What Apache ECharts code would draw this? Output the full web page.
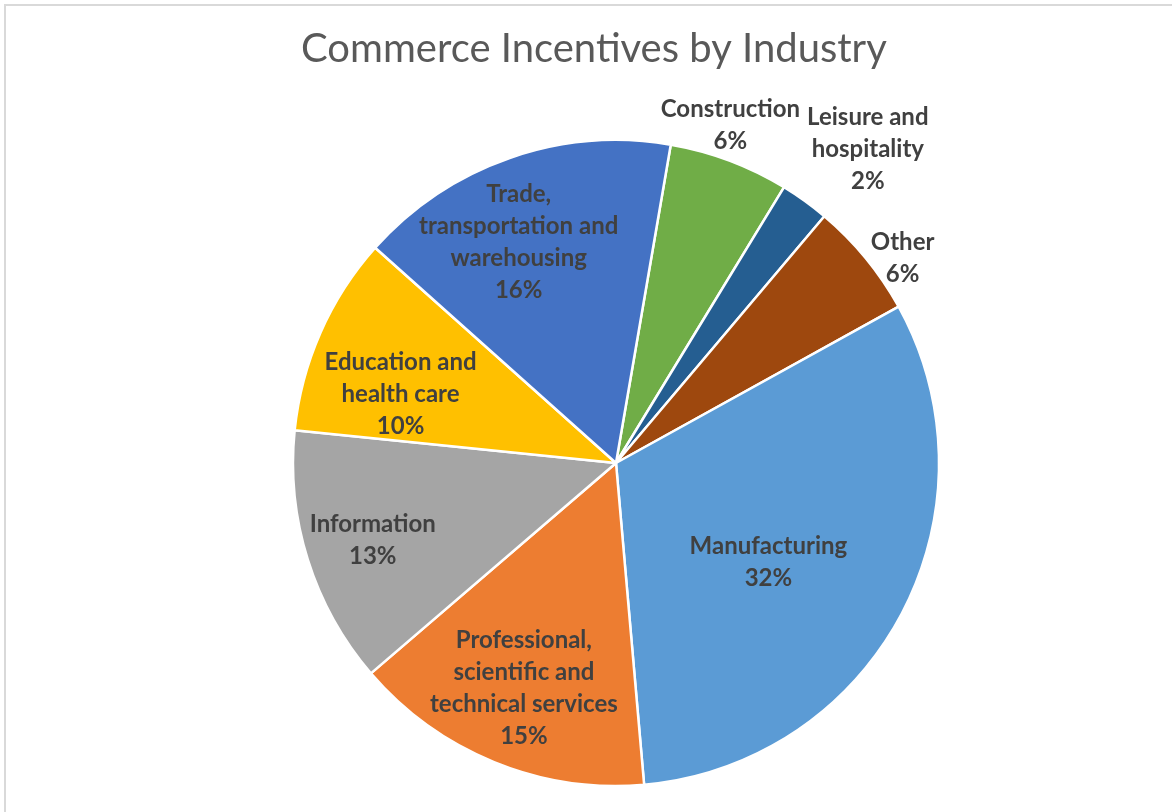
<!DOCTYPE html>
<html>
<head>
<meta charset="utf-8">
<script src="https://cdn.jsdelivr.net/npm/echarts@6/dist/echarts.min.js"></script>
<style>
html,body{margin:0;padding:0;background:#fff;}
#chart{width:1172px;height:812px;}
</style>
</head>
<body>
<div id="chart"></div>
<script>
// ---- data ----
const categories = [
  'Construction',
  'Leisure and hospitality',
  'Other',
  'Manufacturing',
  'Professional, scientific and technical services',
  'Information',
  'Education and health care',
  'Trade, transportation and warehousing'
];
const labelNames = [
  'Construction',
  'Leisure and\nhospitality',
  'Other',
  'Manufacturing',
  'Professional,\nscientific and\ntechnical services',
  'Information',
  'Education and\nhealth care',
  'Trade,\ntransportation and\nwarehousing'
];
const values = [6.0, 2.45, 5.8, 31.65, 15.1, 12.9, 10.0, 16.1];

// ---- styling / layout ----
const colors = ['#70AD47', '#255E91', '#9E480E', '#5B9BD5', '#ED7D31', '#A5A5A5', '#FFC000', '#4472C4'];
const labelOutside = [true, true, true, false, false, false, false, false];
const labelDist = [357, 400, 354, 181, 241, 254, 227, 241];
const labelNudge = [[-16, -3], [13, 11], [8, 20], [-10, 13], [0, -1], [2, 0], [-5, 24], [-17, 10]];
const CX = 616, CY = 463, R = 323;
const START = 80.24;

const chart = echarts.init(document.getElementById('chart'), null, {renderer: 'canvas'});

const series = [{
  type: 'pie',
  center: [CX, CY],
  radius: [0, R],
  startAngle: START,
  clockwise: true,
  avoidLabelOverlap: false,
  silent: true,
  label: {show: false},
  labelLine: {show: false},
  emphasis: {disabled: true},
  itemStyle: {borderColor: '#ffffff', borderWidth: 2.5},
  data: values.map((v, i) => ({value: v, name: categories[i], itemStyle: {color: colors[i]}}))
}];

values.forEach((_, i) => {
  const out = labelOutside[i];
  series.push({
    type: 'pie',
    center: [CX, CY],
    radius: out ? [labelDist[i] - 2, labelDist[i]] : [labelDist[i] - 1, labelDist[i] + 1],
    startAngle: START,
    clockwise: true,
    avoidLabelOverlap: false,
    silent: true,
    z: 5,
    labelLine: {show: false, length: 0, length2: 0},
    emphasis: {disabled: true},
    itemStyle: {color: 'rgba(0,0,0,0)', borderWidth: 0},
    label: {
      position: out ? 'outside' : 'inside',
      alignTo: 'none',
      color: '#404040',
      fontFamily: 'Lato',
      fontWeight: 'bold',
      fontSize: 24,
      lineHeight: 32,
      formatter: p => labelNames[p.dataIndex] + '\n' + Math.round(p.percent) + '%'
    },
    labelLayout: () => ({dx: labelNudge[i][0], dy: labelNudge[i][1], align: 'center', verticalAlign: 'middle'}),
    data: values.map((v, j) => ({value: v, name: categories[j], label: {show: j === i}}))
  });
});

chart.setOption({
  animation: false,
  backgroundColor: '#ffffff',
  title: {
    text: 'Commerce Incentives by Industry',
    left: 296,
    top: 24,
    textStyle: {fontFamily: 'Lato', fontWeight: 'normal', fontSize: 40, color: '#595959'}
  },
  graphic: [{
    type: 'polyline',
    shape: {points: [[5, 812], [5, 5], [1172, 5]]},
    style: {stroke: '#D9D9D9', lineWidth: 2, fill: null},
    silent: true
  }],
  series: series
});
</script>
</body>
</html>
